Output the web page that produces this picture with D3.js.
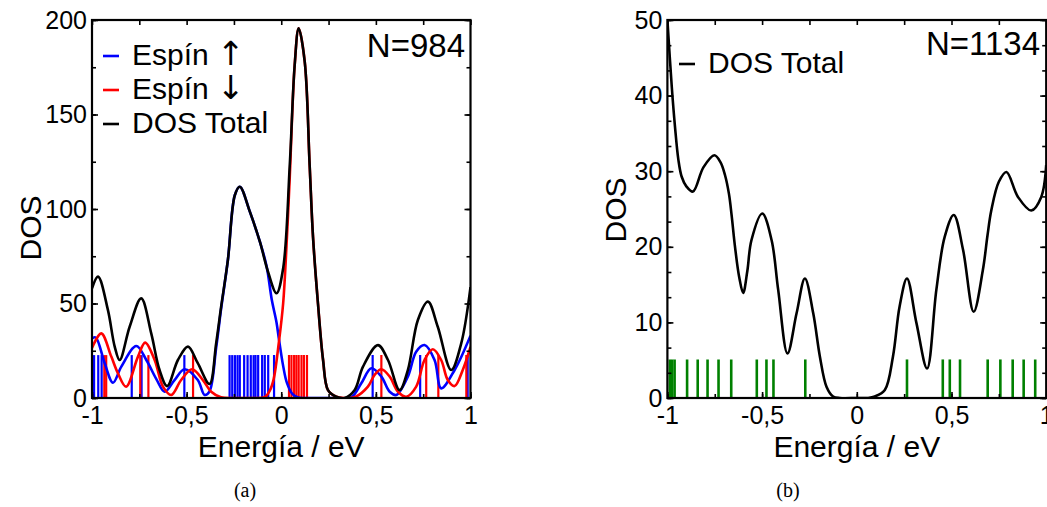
<!DOCTYPE html>
<html>
<head>
<meta charset="utf-8">
<script src="https://cdn.jsdelivr.net/npm/d3@7"></script>
<style>
  html, body { margin: 0; padding: 0; background: #fff; }
  svg { display: block; }
</style>
</head>
<body>
<svg id="chart" width="1047" height="507"></svg>
<script>
// ---- Panel (a): spin-resolved DOS, N=984 ----
const energyTotalA = [-1, -0.968, -0.916, -0.880, -0.854, -0.801, -0.740, -0.687, -0.643, -0.603, -0.546, -0.493, -0.441, -0.379, -0.344, -0.318, -0.282, -0.245, -0.219, -0.166, -0.113, -0.070, -0.025, 0.010, 0.045, 0.071, 0.092, 0.124, 0.150, 0.168, 0.194, 0.221, 0.247, 0.291, 0.335, 0.388, 0.432, 0.511, 0.564, 0.625, 0.669, 0.722, 0.775, 0.827, 0.898, 0.951, 1];
const dosTotalA    = [58, 64.2, 46.6, 27.2, 20.1, 37.7, 52.7, 34.2, 14.8, 6.3, 20.1, 27.2, 18.4, 7.4, 28.9, 48, 73, 107.4, 111.8, 98.6, 82.7, 66.8, 55.4, 68.6, 123.3, 176.2, 195.6, 178, 123.3, 85, 50, 20.1, 4.2, 0.7, 0, 4.2, 16.6, 28, 20.1, 4.2, 14.8, 41.3, 51, 37.7, 14.8, 28.9, 58.7];

const energyUpA = [-1, -0.980, -0.933, -0.889, -0.845, -0.766, -0.713, -0.660, -0.616, -0.564, -0.511, -0.441, -0.405, -0.379, -0.344, -0.318, -0.282, -0.245, -0.219, -0.166, -0.113, -0.078, -0.050, -0.025, -0.012, 0.010, 0.030, 0.060, 0.090, 0.200, 0.300, 0.370, 0.423, 0.476, 0.529, 0.573, 0.608, 0.669, 0.713, 0.757, 0.810, 0.845, 0.916, 1];
const dosUpA    = [31.5, 32, 18.4, 8.1, 16.6, 27.5, 20.1, 10, 3.3, 9.5, 15.2, 9.5, 1.6, 3.5, 26.5, 47, 73, 107.4, 111.8, 98.6, 82.7, 70, 52, 40, 31, 17, 8, 2, 0.3, 0, 0, 0.4, 7.8, 15.7, 11.3, 3.3, 1.6, 11.3, 24.5, 28, 20.1, 5.1, 14.8, 33];

const energyDownA = [-1, -0.951, -0.898, -0.863, -0.820, -0.757, -0.719, -0.669, -0.625, -0.581, -0.529, -0.471, -0.414, -0.370, -0.318, -0.250, -0.150, -0.087, -0.060, -0.040, -0.012, 0.010, 0.030, 0.045, 0.071, 0.092, 0.124, 0.150, 0.168, 0.194, 0.221, 0.247, 0.291, 0.335, 0.388, 0.458, 0.493, 0.529, 0.573, 0.617, 0.661, 0.713, 0.757, 0.801, 0.845, 0.880, 0.916, 0.959, 1];
const dosDownA    = [26.5, 34.2, 21.9, 13.1, 6, 21.9, 29.3, 20.1, 6, 1.6, 9.5, 15.2, 9.5, 3.3, 0.4, 0, 0, 0.5, 4, 10, 30, 50, 85, 117, 176.2, 195.6, 178, 123.3, 85, 50, 20.1, 4.2, 0.7, 0, 0.4, 6, 12.2, 15.2, 11.3, 3.3, 0.7, 6, 20.1, 25.8, 20.1, 9.5, 6.3, 14.8, 27];

// eigenvalue positions (eV) drawn as sticks
const levelsUpA = [-0.989, -0.967, -0.949, -0.790, -0.738, -0.512, -0.273, -0.259, -0.245, -0.231, -0.219, -0.196, -0.178, -0.161, -0.146, -0.136, -0.122, -0.101, -0.087, -0.069, -0.038, 0.483, 0.734, 0.985];
const levelsDownA = [-0.935, -0.925, -0.745, -0.702, -0.466, 0.041, 0.054, 0.068, 0.080, 0.092, 0.107, 0.120, 0.136, 0.529, 0.766, 0.830, 0.978];
const stickHeightA = 22.7;

// ---- Panel (b): total DOS, N=1134 ----
const energyTotalB = [-1, -0.977, -0.960, -0.942, -0.925, -0.900, -0.865, -0.810, -0.752, -0.720, -0.696, -0.675, -0.661, -0.643, -0.621, -0.600, -0.578, -0.556, -0.499, -0.450, -0.415, -0.366, -0.318, -0.274, -0.230, -0.195, -0.160, -0.125, -0.090, 0, 0.060, 0.095, 0.148, 0.191, 0.226, 0.265, 0.315, 0.371, 0.420, 0.464, 0.512, 0.561, 0.617, 0.666, 0.690, 0.710, 0.750, 0.790, 0.851, 0.921, 0.974, 1];
const dosTotalB    = [50, 41.2, 35.9, 31.5, 29.3, 28, 27.3, 30.5, 32.1, 31.2, 29.5, 27, 24.2, 20, 16, 13.9, 16.8, 20.9, 24.4, 20.9, 14.3, 5.9, 11.2, 15.8, 11.2, 5.5, 1.5, 0.2, 0, 0, 0, 0.2, 1.06, 5.5, 12.1, 15.8, 9.9, 3.9, 14.3, 21.3, 24.2, 19.6, 11.4, 17, 21.5, 24.8, 28.6, 29.9, 26.6, 24.8, 26.6, 30.8];

const levelsB = [-0.987, -0.975, -0.962, -0.896, -0.840, -0.788, -0.730, -0.663, -0.528, -0.477, -0.440, -0.272, 0.265, 0.454, 0.491, 0.545, 0.691, 0.758, 0.823, 0.881, 0.942];
const stickHeightB = 5.1;

// tick values and labels
const xTicks = [-1, -0.5, 0, 0.5, 1];
const xMinorTicks = [-1, -0.75, -0.5, -0.25, 0, 0.25, 0.5, 0.75, 1];
const yTicksA = [0, 50, 100, 150, 200];
const yMinorTicksA = [0, 25, 50, 75, 100, 125, 150, 175, 200];
const yTicksB = [0, 10, 20, 30, 40, 50];
const yMinorTicksB = d3.range(0, 16).map(i => i * 10 / 3);

const legendA = [
  { label: "Espín", arrow: "\u2191", color: "#0000ff" },
  { label: "Espín", arrow: "\u2193", color: "#ff0000" },
  { label: "DOS Total", arrow: "", color: "#000000" }
];
const legendB = [{ label: "DOS Total", arrow: "", color: "#000000" }];

const SANS = "'Liberation Sans', Arial, Helvetica, sans-serif";
const SERIF = "'Liberation Serif', 'DejaVu Serif', serif";
const fmt = d => String(d).replace(".", ",");

const svg = d3.select("#chart");
svg.append("rect").attr("width", 1047).attr("height", 507).attr("fill", "#fff");

function panel(opts) {
  const { x, y, id } = opts;
  const [x0, x1] = x.range();
  const [y0, y1] = y.range(); // y0 bottom, y1 top
  const g = svg.append("g");

  g.append("clipPath").attr("id", id).append("rect")
    .attr("x", x0).attr("y", y1).attr("width", x1 - x0).attr("height", y0 - y1);

  const plot = g.append("g").attr("clip-path", `url(#${id})`);

  // eigenvalue sticks
  opts.sticks.forEach(s => {
    plot.append("g").selectAll("line").data(s.values).join("line")
      .attr("x1", d => x(d)).attr("x2", d => x(d))
      .attr("y1", y(0)).attr("y2", y(s.height))
      .attr("stroke", s.color).attr("stroke-width", s.width);
  });

  // DOS curves
  opts.curves.forEach(c => {
    const pts = c.e.map((e, i) => [e, c.v[i]]);
    plot.append("path").datum(pts)
      .attr("fill", "none").attr("stroke", c.color).attr("stroke-width", 2.6)
      .attr("stroke-linejoin", "round")
      .attr("d", d3.line().x(d => x(d[0])).y(d => y(Math.max(0, d[1])))
        .curve(d3.curveCatmullRom.alpha(0.5)));
  });

  // axes with inward ticks on all four sides
  const style = sel => {
    sel.select(".domain").remove();
    sel.selectAll(".tick line").attr("stroke", "#000").attr("stroke-width", 1.6);
    sel.selectAll("text").attr("font-family", SANS).attr("font-size", 25).attr("fill", "#000");
  };
  const noLab = () => "";
  g.append("g").attr("transform", `translate(0,${y0})`)
    .call(d3.axisBottom(x).tickValues(xMinorTicks).tickSize(-4).tickFormat(noLab)).call(style);
  g.append("g").attr("transform", `translate(0,${y0})`)
    .call(d3.axisBottom(x).tickValues(xTicks).tickSize(-6).tickPadding(8).tickFormat(fmt)).call(style);
  g.append("g").attr("transform", `translate(0,${y1})`)
    .call(d3.axisTop(x).tickValues(xMinorTicks).tickSize(-5).tickFormat(noLab)).call(style);
  g.append("g").attr("transform", `translate(${x0},0)`)
    .call(d3.axisLeft(y).tickValues(opts.yMinor).tickSize(-4).tickFormat(noLab)).call(style);
  g.append("g").attr("transform", `translate(${x0},0)`)
    .call(d3.axisLeft(y).tickValues(opts.yTicks).tickSize(-6).tickPadding(5).tickFormat(fmt)).call(style);
  g.append("g").attr("transform", `translate(${x1},0)`)
    .call(d3.axisRight(y).tickValues(opts.yMinor).tickSize(-4).tickFormat(noLab)).call(style);
  g.append("g").attr("transform", `translate(${x1},0)`)
    .call(d3.axisRight(y).tickValues(opts.yTicks).tickSize(-6).tickFormat(noLab)).call(style);

  // frame
  g.append("rect").attr("x", x0).attr("y", y1).attr("width", x1 - x0).attr("height", y0 - y1)
    .attr("fill", "none").attr("stroke", "#000").attr("stroke-width", 2.2);

  // axis titles
  g.append("text").attr("x", (x0 + x1) / 2).attr("y", 457).attr("text-anchor", "middle")
    .attr("font-family", SANS).attr("font-size", 30).text("Energía / eV");
  g.append("text").attr("transform", `translate(${opts.yTitleX},${opts.yTitleY}) rotate(-90)`)
    .attr("text-anchor", "middle").attr("font-family", SANS).attr("font-size", 30).text("DOS");

  // cluster size label
  g.append("text").attr("x", opts.nX).attr("y", opts.nY).attr("text-anchor", "end")
    .attr("font-family", SANS).attr("font-size", 33).text(opts.nLabel);

  // legend
  opts.legend.forEach((d, i) => {
    const by = opts.legY + i * 34;
    g.append("line").attr("x1", opts.legX).attr("x2", opts.legX + 16)
      .attr("y1", by - 9).attr("y2", by - 9).attr("stroke", d.color).attr("stroke-width", 2.6);
    const t = g.append("text").attr("x", opts.legX + 29).attr("y", by)
      .attr("font-family", SANS).attr("font-size", 30).text(d.label + (d.arrow ? " " : ""));
    if (d.arrow) {
      t.append("tspan").attr("font-family", "'DejaVu Sans', sans-serif")
        .attr("font-size", 33).text(d.arrow);
    }
  });

  // sub-figure caption
  g.append("text").attr("x", opts.capX).attr("y", 497).attr("text-anchor", "middle")
    .attr("font-family", SERIF).attr("font-size", 20).text(opts.caption);
}

const xA = d3.scaleLinear().domain([-1, 1]).range([92, 470.5]);
const yA = d3.scaleLinear().domain([0, 200]).range([398, 20]);
panel({
  id: "clipA", x: xA, y: yA, yTicks: yTicksA, yMinor: yMinorTicksA,
  sticks: [
    { values: levelsUpA, color: "#0000ff", height: stickHeightA, width: 2.2 },
    { values: levelsDownA, color: "#ff0000", height: stickHeightA, width: 2.2 }
  ],
  curves: [
    { e: energyUpA, v: dosUpA, color: "#0000ff" },
    { e: energyDownA, v: dosDownA, color: "#ff0000" },
    { e: energyTotalA, v: dosTotalA, color: "#000000" }
  ],
  yTitleX: 41, yTitleY: 228,
  nLabel: "N=984", nX: 465, nY: 57,
  legend: legendA, legX: 103, legY: 65,
  caption: "(a)", capX: 245
});

const xB = d3.scaleLinear().domain([-1, 1]).range([667.4, 1046.2]);
const yB = d3.scaleLinear().domain([0, 50]).range([398, 20]);
panel({
  id: "clipB", x: xB, y: yB, yTicks: yTicksB, yMinor: yMinorTicksB,
  sticks: [{ values: levelsB, color: "#008000", height: stickHeightB, width: 2.6 }],
  curves: [{ e: energyTotalB, v: dosTotalB, color: "#000000" }],
  yTitleX: 626, yTitleY: 210,
  nLabel: "N=1134", nX: 1040, nY: 55,
  legend: legendB, legX: 679, legY: 73,
  caption: "(b)", capX: 788
});
</script>
</body>
</html>
